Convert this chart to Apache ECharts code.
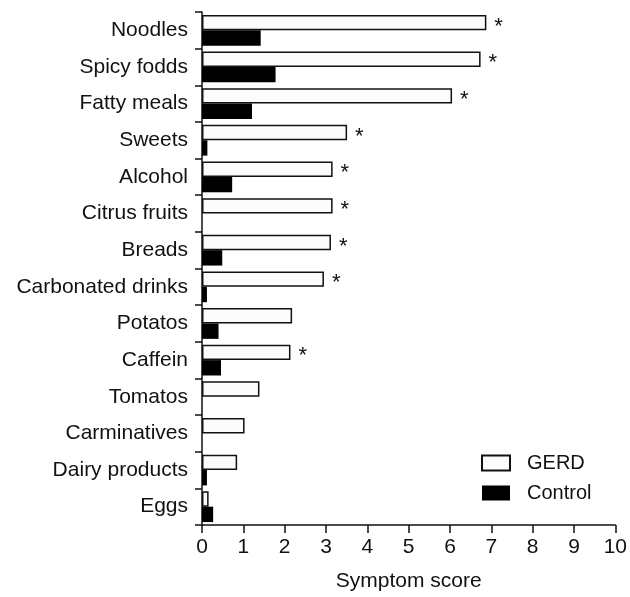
<!DOCTYPE html>
<html>
<head>
<meta charset="utf-8">
<script src="https://cdn.jsdelivr.net/npm/echarts@6/dist/echarts.min.js"></script>
<style>
  html, body { margin: 0; padding: 0; background: #fff; }
  #chart { width: 630px; height: 597px; }
</style>
</head>
<body>
<div id="chart"></div>
<script>
// Foods that trigger reflux symptoms, listed top to bottom
const categories = ['Noodles', 'Spicy fodds', 'Fatty meals', 'Sweets', 'Alcohol', 'Citrus fruits',
  'Breads', 'Carbonated drinks', 'Potatos', 'Caffein', 'Tomatos', 'Carminatives',
  'Dairy products', 'Eggs'];
// Mean symptom scores per group
const gerdScores =    [6.88, 6.74, 6.05, 3.51, 3.16, 3.16, 3.12, 2.95, 2.18, 2.14, 1.39, 1.03, 0.85, 0.16];
const controlScores = [1.42, 1.78, 1.21, 0.13, 0.73, 0.00, 0.49, 0.12, 0.40, 0.46, 0.00, 0.00, 0.12, 0.27];
// Significant difference between groups (marked with an asterisk)
const significant = [true, true, true, true, true, true, true, true, false, true, false, false, false, false];
const xTicks = [0, 1, 2, 3, 4, 5, 6, 7, 8, 9, 10];

const FONT = 'Liberation Sans';
const FS = 21;
const chart = echarts.init(document.getElementById('chart'), null, { renderer: 'canvas' });

chart.setOption({
  animation: false,
  backgroundColor: '#ffffff',
  grid: { left: 202, right: 12, top: 12, bottom: 71, containLabel: false },
  legend: {
    orient: 'vertical',
    left: 481,
    top: 453,
    padding: 0,
    icon: 'rect',
    itemWidth: 28,
    itemHeight: 15,
    itemGap: 10,
    textStyle: { fontFamily: FONT, fontSize: 20, color: '#111', padding: [0, 0, 0, 12] },
    data: ['GERD', 'Control']
  },
  xAxis: {
    type: 'value',
    min: xTicks[0],
    max: xTicks[xTicks.length - 1],
    interval: 1,
    name: 'Symptom score',
    nameLocation: 'middle',
    nameGap: 46,
    nameTextStyle: { fontFamily: FONT, fontSize: FS, color: '#111' },
    axisLine: { show: true, lineStyle: { color: '#111', width: 1.5 } },
    axisTick: { show: true, length: 8, lineStyle: { color: '#111', width: 1.5 } },
    axisLabel: { fontFamily: FONT, fontSize: FS, color: '#111', margin: 12 },
    splitLine: { show: false }
  },
  yAxis: {
    type: 'category',
    inverse: true,
    data: categories,
    axisLine: { show: true, lineStyle: { color: '#111', width: 1.5 } },
    axisTick: { show: true, length: 7, lineStyle: { color: '#111', width: 1.5 } },
    axisLabel: { fontFamily: FONT, fontSize: FS, color: '#111', margin: 14 }
  },
  series: [
    {
      name: 'GERD',
      type: 'bar',
      data: gerdScores,
      barGap: '0%',
      barCategoryGap: '16%',
      itemStyle: { color: '#fcfcfc', borderColor: '#111', borderWidth: 1.5 },
      label: {
        show: true,
        position: 'right',
        distance: 8,
        offset: [0, 4],
        fontFamily: FONT,
        fontSize: 22,
        color: '#111',
        formatter: p => (significant[p.dataIndex] ? '*' : '')
      }
    },
    {
      name: 'Control',
      type: 'bar',
      data: controlScores,
      barGap: '0%',
      barCategoryGap: '16%',
      itemStyle: { color: '#000' }
    }
  ]
});
</script>
</body>
</html>
